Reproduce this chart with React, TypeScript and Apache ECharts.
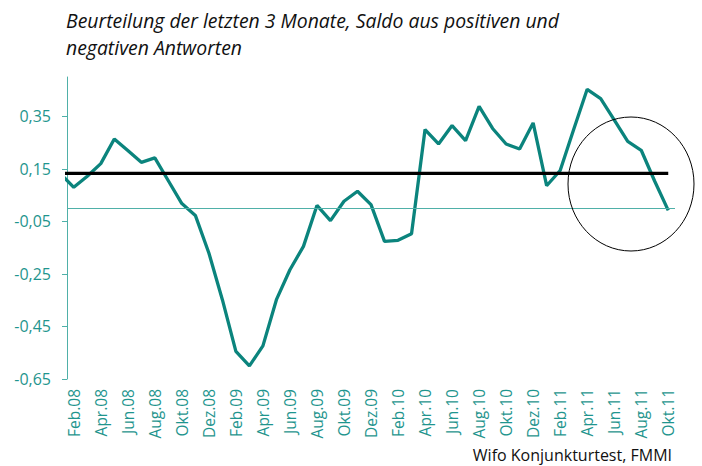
import React, { useEffect, useRef } from "react";
import * as echarts from "echarts";

// Months (Jan.08 precedes the visible range; the axis starts between Jan.08 and Feb.08)
const months: string[] = [
  "Jan.08", "Feb.08", "Mär.08", "Apr.08", "Mai.08", "Jun.08", "Jul.08", "Aug.08", "Sep.08", "Okt.08", "Nov.08", "Dez.08",
  "Jan.09", "Feb.09", "Mär.09", "Apr.09", "Mai.09", "Jun.09", "Jul.09", "Aug.09", "Sep.09", "Okt.09", "Nov.09", "Dez.09",
  "Jan.10", "Feb.10", "Mär.10", "Apr.10", "Mai.10", "Jun.10", "Jul.10", "Aug.10", "Sep.10", "Okt.10", "Nov.10", "Dez.10",
  "Jan.11", "Feb.11", "Mär.11", "Apr.11", "Mai.11", "Jun.11", "Jul.11", "Aug.11", "Sep.11", "Okt.11",
];

const saldo: number[] = [
  0.133, 0.08, 0.122, 0.17, 0.264, 0.22, 0.175, 0.192, 0.105, 0.018, -0.027, -0.17,
  -0.348, -0.545, -0.6, -0.524, -0.348, -0.234, -0.145, 0.011, -0.047, 0.027, 0.065, 0.014,
  -0.126, -0.122, -0.097, 0.3, 0.245, 0.315, 0.258, 0.388, 0.304, 0.245, 0.226, 0.325,
  0.086, 0.144, 0.3, 0.453, 0.418, 0.337, 0.255, 0.221, 0.103, -0.008,
];

const mittelwert = 0.133;
const yTicks: number[] = [-0.65, -0.45, -0.25, -0.05, 0.15, 0.35];
const labelMonths: string[] = months.filter((_, i) => i % 2 === 1);

const TITLE = "Beurteilung der letzten 3 Monate, Saldo aus positiven und\nnegativen Antworten";
const SOURCE = "Wifo Konjunkturtest, FMMI";

const TEAL = "#0b847d";
const TEAL_LABEL = "#1f958e";
const TEAL_LIGHT = "#4fb0a8";
const FONT = "'Open Sans', Lato, sans-serif";

export default function App() {
  const ref = useRef<HTMLDivElement>(null);
  useEffect(() => {
    if (!ref.current) return;
    const chart = echarts.init(ref.current, null, { renderer: "svg" });
    const xLabelValues = labelMonths.map((m) => months.indexOf(m));
    chart.setOption({
      animation: false,
      backgroundColor: "#ffffff",
      textStyle: { fontFamily: FONT },
      title: {
        text: TITLE,
        left: 66,
        top: 7,
        padding: 0,
        textStyle: {
          fontFamily: FONT,
          fontStyle: "italic",
          fontWeight: "normal",
          fontSize: 19.4,
          lineHeight: 27,
          color: "#111111",
        },
      },
      grid: { left: 67, right: 27, top: 77, bottom: 87, containLabel: false },
      xAxis: {
        type: "value",
        min: 0.5,
        max: months.length - 0.5,
        axisLine: { show: false },
        axisTick: { show: false },
        splitLine: { show: false },
        axisLabel: {
          customValues: xLabelValues,
          rotate: 90,
          margin: 10,
          color: TEAL_LABEL,
          fontSize: 15.5,
          fontFamily: FONT,
          formatter: (v: number) => months[Math.round(v)] ?? "",
        },
      },
      yAxis: {
        type: "value",
        min: -0.65,
        max: 0.5,
        axisLine: { show: true, lineStyle: { color: TEAL_LIGHT, width: 1 } },
        axisTick: { show: true, customValues: yTicks, length: 5, lineStyle: { color: TEAL_LIGHT } },
        splitLine: { show: false },
        axisLabel: {
          customValues: yTicks,
          margin: 16,
          color: TEAL_LABEL,
          fontSize: 16,
          fontFamily: FONT,
          formatter: (v: number) => v.toFixed(2).replace(".", ","),
        },
      },
      series: [
        {
          type: "line",
          name: "Saldo",
          data: saldo.map((v, i) => [i, v]),
          showSymbol: false,
          symbol: "none",
          clip: true,
          lineStyle: { color: TEAL, width: 3.3 },
          markLine: {
            silent: true,
            symbol: ["none", "none"],
            label: { show: false },
            lineStyle: { color: TEAL_LIGHT, width: 1, type: "solid" },
            data: [{ yAxis: 0 }],
          },
          z: 2,
        },
        {
          type: "line",
          name: "Mittelwert",
          data: months.map((_, i) => {
            if (i === 14) {
              return {
                value: [i, mittelwert],
                label: {
                  show: true,
                  position: "top",
                  distance: 6,
                  formatter: "Mittelwert",
                  color: "#111111",
                  fontSize: 16,
                  fontFamily: FONT,
                },
              };
            }
            return [i, mittelwert];
          }),
          showSymbol: false,
          symbol: "none",
          clip: true,
          lineStyle: { color: "#000000", width: 3.3 },
          z: 3,
        },
      ],
      graphic: [
        {
          type: "ellipse",
          shape: { cx: 631, cy: 184, rx: 63, ry: 67 },
          style: { fill: "none", stroke: "#000000", lineWidth: 1 },
          z: 10,
        },
        {
          type: "text",
          right: 30,
          top: 447,
          style: {
            text: SOURCE,
            fill: "#111111",
            fontSize: 16,
            fontFamily: FONT,
          },
        },
      ],
    });
    return () => chart.dispose();
  }, []);
  return (
    <div
      ref={ref}
      style={{ position: "fixed", left: 0, top: 0, width: 702, height: 466 }}
    />
  );
}
